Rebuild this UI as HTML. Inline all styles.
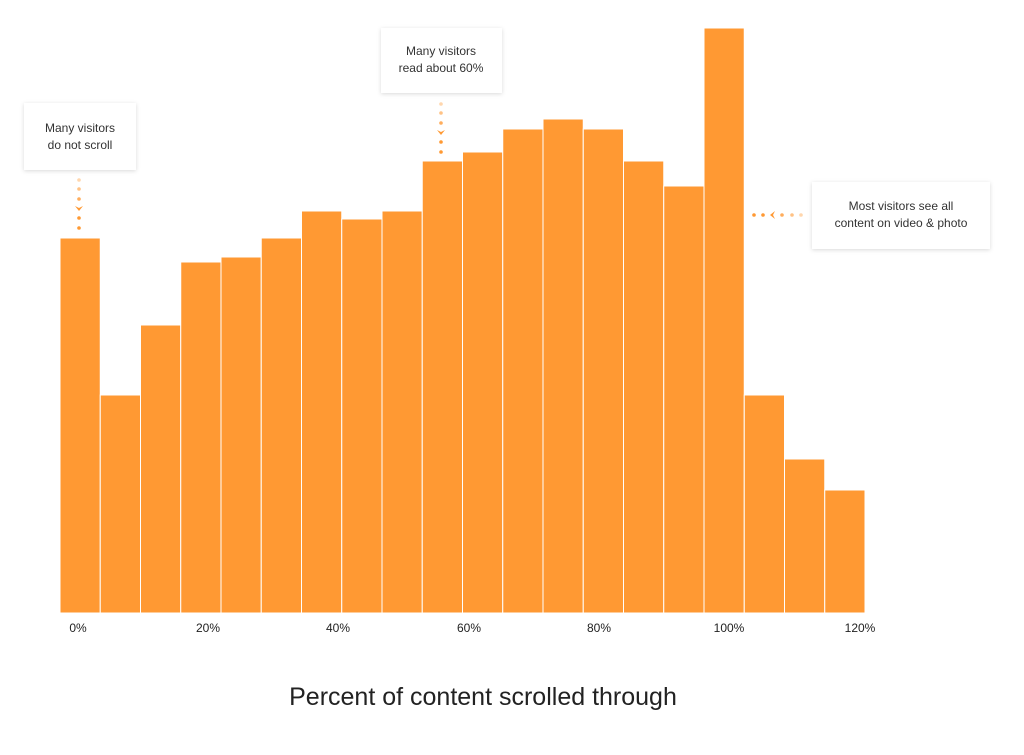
<!DOCTYPE html>
<html><head><style>
body{margin:0;background:#fff;width:1024px;height:750px;overflow:hidden}
svg text{font-family:"Liberation Sans",sans-serif}
</style></head><body>
<svg width="1024" height="750" xmlns="http://www.w3.org/2000/svg">
<defs><filter id="sh" x="-20%" y="-20%" width="140%" height="150%"><feDropShadow dx="0" dy="1" stdDeviation="2" flood-color="#000" flood-opacity="0.15"/></filter></defs>
<g fill="#FF9933" stroke="#fff" stroke-width="1" id="bars"></g>
<g font-size="12" fill="#222" text-anchor="middle">
<text x="78" y="632">0%</text><text x="208" y="632">20%</text><text x="338" y="632">40%</text>
<text x="469" y="632">60%</text><text x="599" y="632">80%</text><text x="729" y="632">100%</text><text x="860" y="632">120%</text>
</g>
<text x="483" y="705" font-size="25" fill="#222" text-anchor="middle">Percent of content scrolled through</text>
<g filter="url(#sh)" fill="#fff">
<rect x="24" y="103" width="112" height="67"/>
<rect x="381" y="28" width="121" height="65"/>
<rect x="812" y="182" width="178" height="67"/>
</g>
<g font-size="12" fill="#333" text-anchor="middle">
<text x="80" y="132">Many visitors</text><text x="80" y="149">do not scroll</text>
<text x="441" y="55">Many visitors</text><text x="441" y="72">read about 60%</text>
<text x="901" y="210">Most visitors see all</text><text x="901" y="227">content on video &amp; photo</text>
</g>
<g fill="#FF9933">
<circle cx="79" cy="180" r="1.8" opacity="0.4"/><circle cx="79" cy="189" r="1.8" opacity="0.6"/><circle cx="79" cy="199" r="1.8" opacity="0.8"/>
<path d="M75 206 L79 211 L83 206 L79 208Z"/><circle cx="79" cy="218" r="1.8"/><circle cx="79" cy="228" r="1.8"/>
<circle cx="441" cy="104" r="1.8" opacity="0.4"/><circle cx="441" cy="113" r="1.8" opacity="0.6"/><circle cx="441" cy="123" r="1.8" opacity="0.8"/>
<path d="M437 130 L441 135 L445 130 L441 132Z"/><circle cx="441" cy="142" r="1.8"/><circle cx="441" cy="152" r="1.8"/>
<circle cx="754" cy="215" r="1.8"/><circle cx="763" cy="215" r="1.8"/>
<path d="M775 211 L770 215 L775 219 L773 215Z"/>
<circle cx="782" cy="215" r="1.8" opacity="0.8"/><circle cx="792" cy="215" r="1.8" opacity="0.6"/><circle cx="801" cy="215" r="1.8" opacity="0.4"/>
</g>
</svg>
<script>
var tops=[238,395,325,262,257,238,211,219,211,161,152,129,119,129,161,186,28,395,459,490];
var g=document.getElementById('bars'),w=805/20;
tops.forEach(function(t,i){var r=document.createElementNS('http://www.w3.org/2000/svg','rect');
r.setAttribute('x',60+i*w);r.setAttribute('y',t);r.setAttribute('width',w);r.setAttribute('height',613-t);g.appendChild(r);});
</script>
</body></html>
